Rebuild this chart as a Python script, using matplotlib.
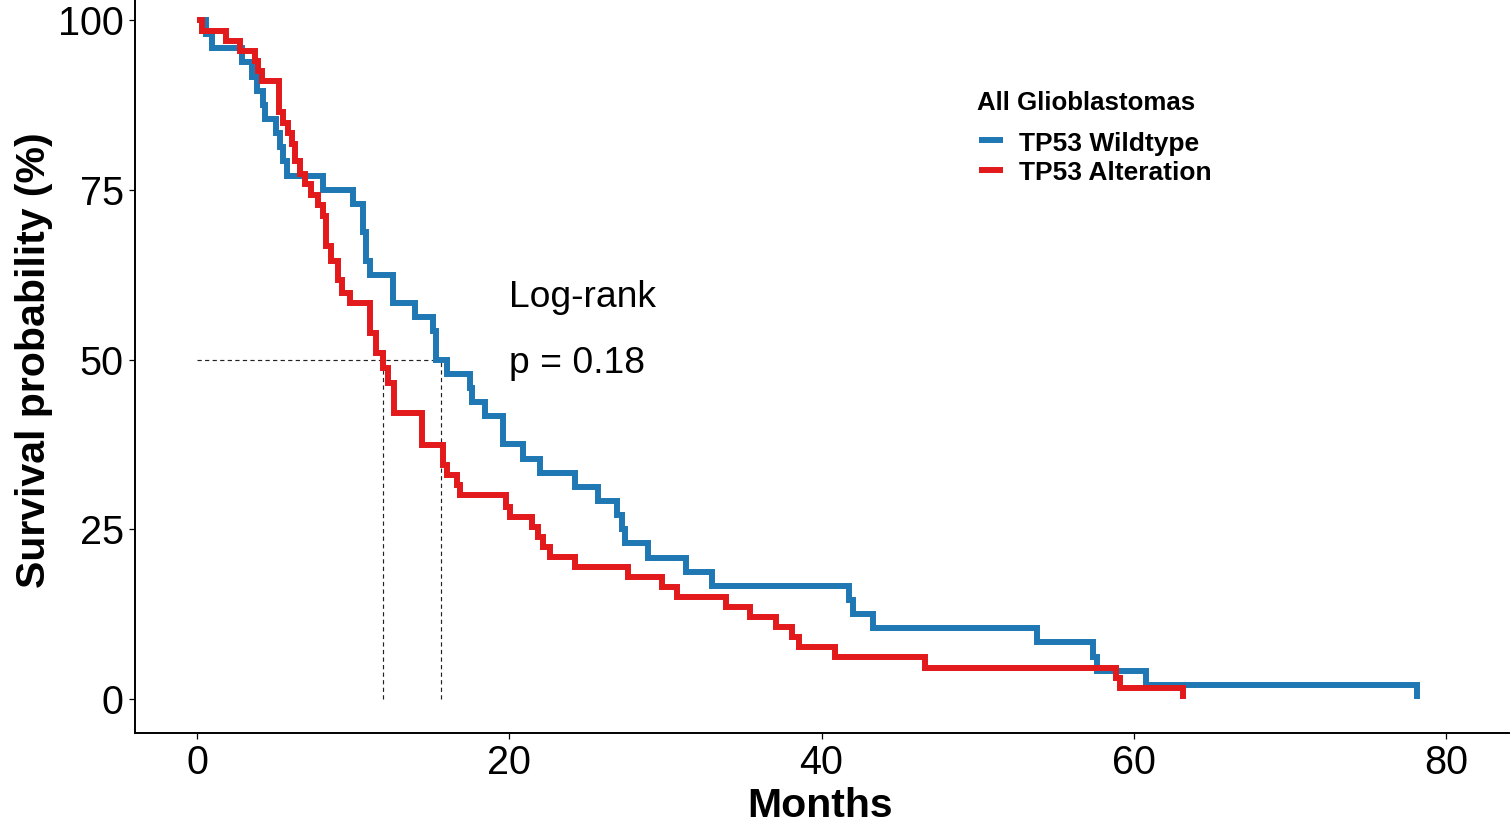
import matplotlib
matplotlib.use("Agg")
import matplotlib.pyplot as plt
from matplotlib.lines import Line2D
import numpy as np

plt.rcParams['font.family'] = ['Liberation Sans', 'DejaVu Sans']

# Kaplan-Meier step points: time (months) and survival (%) after each drop
wt_time = [0.0, 0.58, 0.96, 2.88, 3.52, 3.84, 4.23, 4.36, 5.06, 5.32, 5.51, 5.76,
           8.07, 9.99, 10.6, 10.8, 11.1, 12.55, 13.96, 15.12, 15.28, 16.01, 17.49,
           17.6, 18.45, 19.6, 20.88, 21.97, 24.21, 25.68, 26.9, 27.22, 27.41, 28.89,
           31.32, 32.99, 41.76, 42.02, 43.3, 53.8, 57.39, 57.65, 60.78, 78.14]
wt_surv = [100.0, 97.92, 95.83, 93.75, 91.67, 89.58, 87.5, 85.42, 83.33, 81.25, 79.17,
           77.08, 75.0, 72.92, 68.75, 64.58, 62.5, 58.33, 56.25, 54.17, 50.0, 47.92,
           45.83, 43.75, 41.67, 37.5, 35.42, 33.33, 31.25, 29.17, 27.08, 25.0, 22.92,
           20.83, 18.75, 16.67, 14.58, 12.5, 10.42, 8.33, 6.25, 4.17, 2.08, 0.0]

alt_time = [0.0, 0.32, 1.86, 2.75, 3.71, 3.91, 4.16, 5.25, 5.51, 5.83, 6.08, 6.28,
            6.6, 6.92, 7.3, 7.75, 8.07, 8.26, 8.58, 9.03, 9.29, 9.8, 11.08, 11.47,
            11.91, 12.23, 12.62, 14.41, 15.76, 16.01, 16.65, 16.85, 19.79, 20.05,
            21.46, 21.84, 22.16, 22.61, 24.21, 27.61, 29.78, 30.74, 33.88, 35.42,
            37.09, 38.11, 38.56, 40.86, 46.63, 58.86, 59.12, 63.15]
alt_surv = [100.0, 98.4, 96.9, 95.4, 94.0, 92.5, 91.0, 86.4, 84.8, 83.3, 81.8, 79.3,
            77.3, 75.8, 74.2, 72.7, 71.2, 66.7, 64.5, 61.7, 59.8, 58.3, 53.9, 51.0,
            48.7, 46.5, 42.1, 37.4, 34.5, 33.0, 31.5, 30.0, 28.3, 26.8, 25.3, 23.9,
            22.4, 20.9, 19.4, 18.0, 16.5, 15.0, 13.5, 12.1, 10.6, 9.1, 7.7, 6.2,
            4.6, 3.1, 1.6, 0.0]

group_labels = ["TP53 Wildtype", "TP53 Alteration"]
group_colors = ["#1F78B4", "#E31A1C"]
legend_title = "All Glioblastomas"
test_name = "Log-rank"
p_value = 0.18

x_ticks = [0, 20, 40, 60, 80]
y_ticks = [0, 25, 50, 75, 100]


def km_median(t, s):
    """Median survival time, using the midpoint rule when S hits 50% exactly."""
    t = np.asarray(t, float)
    s = np.asarray(s, float)
    idx = np.where(s <= 50.0 + 1e-9)[0]
    if len(idx) == 0:
        return None
    i = idx[0]
    if abs(s[i] - 50.0) < 1e-9 and i + 1 < len(t):
        return 0.5 * (t[i] + t[i + 1])
    return t[i]


W, H = 1511, 822
fig = plt.figure(figsize=(W / 100, H / 100), dpi=100)
ax = fig.add_axes([0.08905, 0.10833, 0.9093, 0.9086])
ax.set_xlim(-4, 84)
ax.set_ylim(-5, 105)

# Survival curves
for t, s, c in [(wt_time, wt_surv, group_colors[0]), (alt_time, alt_surv, group_colors[1])]:
    ax.step(t, s, where='post', color=c, lw=4.3, solid_capstyle='butt',
            solid_joinstyle='miter', zorder=3)

# Median survival guide lines
medians = [km_median(wt_time, wt_surv), km_median(alt_time, alt_surv)]
dash = (0, (3.6, 2.8))
ax.plot([0, max(medians)], [50, 50], color='#222222', lw=0.85, ls=dash, zorder=2)
for m in medians:
    ax.plot([m, m], [0, 50], color='#222222', lw=0.85, ls=dash, zorder=2)

# Log-rank annotation
ax.text(20, 57.7, test_name, fontsize=26.8, ha='left', va='baseline', color='black')
ax.text(20, 48.0, f"p = {p_value}", fontsize=26.8, ha='left', va='baseline', color='black')

# Axes styling
for side in ['top', 'right']:
    ax.spines[side].set_visible(False)
for side in ['left', 'bottom']:
    ax.spines[side].set_linewidth(1.4)
    ax.spines[side].set_color('black')
ax.set_xticks(x_ticks)
ax.set_yticks(y_ticks)
ax.tick_params(axis='both', direction='out', length=4.2, width=0.9, color='black',
               labelsize=28.5, labelcolor='black', pad=3.6)

ax.set_xlabel("Months", fontsize=29.5, fontweight='bold')
ax.xaxis.label.set_va('baseline')
ax.xaxis.set_label_coords(0.4989, (732.95 - 817) / 746.9)
ax.set_ylabel("Survival probability (%)", fontsize=29.5, fontweight='bold')
ax.yaxis.label.set_va('baseline')
ax.yaxis.set_label_coords((45 - 134.55) / 1373.9, 0.4993)


def fx(px):
    return px / W


def fy(py):
    return 1 - py / H


# Legend
fig.text(fx(977), fy(110), legend_title, fontsize=18.6, fontweight='bold',
         ha='left', va='baseline')
for label, color, line_y, base_y in [(group_labels[0], group_colors[0], 140.5, 151.5),
                                     (group_labels[1], group_colors[1], 169.5, 180.0)]:
    fig.add_artist(Line2D([fx(979), fx(1003)], [fy(line_y), fy(line_y)],
                          transform=fig.transFigure, color=color, lw=4.3,
                          solid_capstyle='butt'))
    fig.text(fx(1019), fy(base_y), label, fontsize=19, fontweight='bold',
             ha='left', va='baseline')

fig.savefig("out.png", dpi=100)
